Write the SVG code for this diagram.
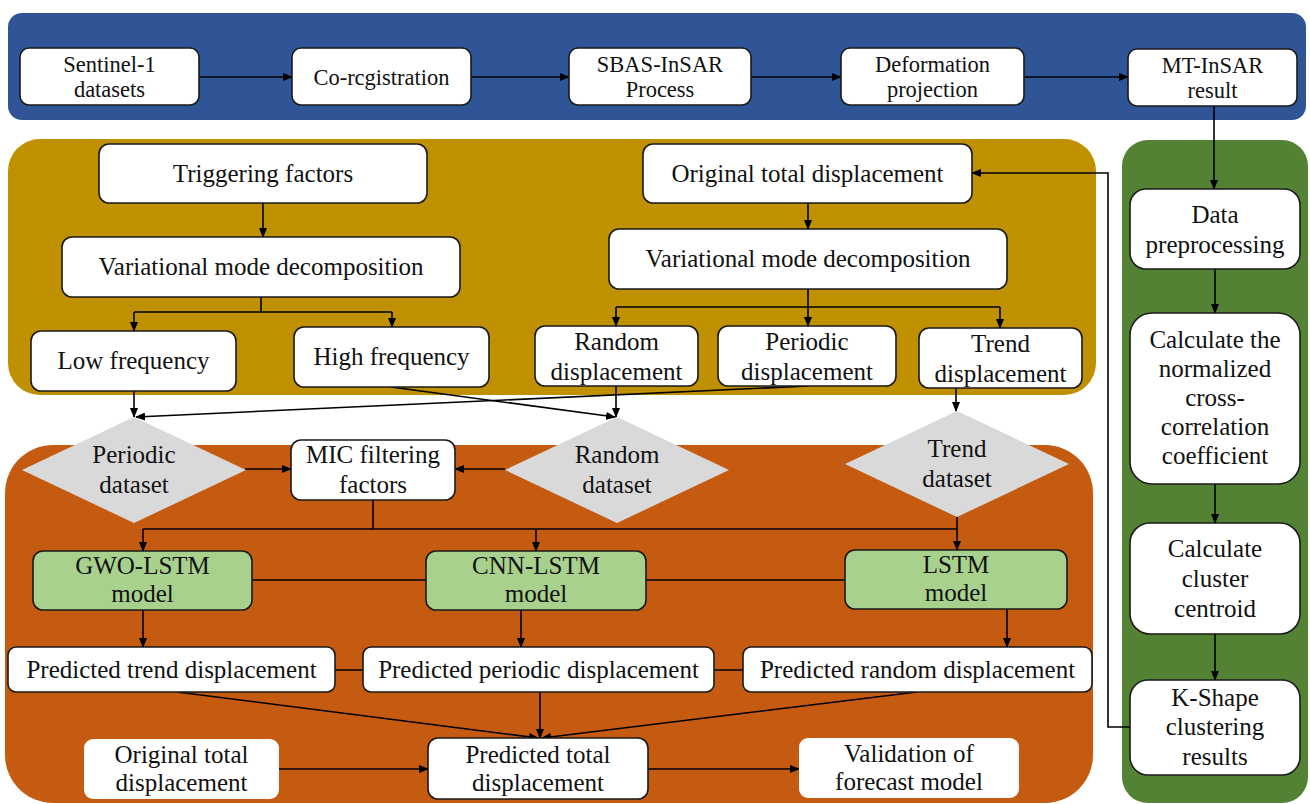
<svg xmlns="http://www.w3.org/2000/svg" width="1310" height="804" viewBox="0 0 1310 804">
<defs>
<marker id="ah" markerWidth="10" markerHeight="8" refX="9" refY="4" orient="auto" markerUnits="userSpaceOnUse">
<path d="M0,0 L10,4 L0,8 Z" fill="#000"/>
</marker>
<style>
text{font-family:'Liberation Serif','DejaVu Serif',serif;fill:#111;text-anchor:middle}
.t{font-size:25px}
.ts{font-size:22.5px}
.b{fill:#fff;stroke:#1a1a1a;stroke-width:1.6}
.g{fill:#A9D18E;stroke:#1a1a1a;stroke-width:1.6}
.n{fill:#fff;stroke:none}
.d{fill:#D9D9D9;stroke:none}
.c{fill:none;stroke:#000;stroke-width:1.6}
.a{fill:none;stroke:#000;stroke-width:1.6;marker-end:url(#ah)}
</style>
</defs>
<rect width="1310" height="804" fill="#fff"/>
<g id="panels">
<rect x="8" y="13" width="1298" height="107" rx="14" fill="#2F5597"/>
<rect x="8" y="139" width="1088" height="256" rx="32" fill="#BF9000"/>
<rect x="5" y="445" width="1088" height="358" rx="48" fill="#C55A11"/>
<rect x="1122" y="140" width="186" height="663" rx="26" fill="#548235"/>
</g>
<g id="connectors">
<path class="a" d="M199,77 H292"/>
<path class="a" d="M471,77 H569"/>
<path class="a" d="M751,77 H841"/>
<path class="a" d="M1024,77 H1128"/>
<path class="a" d="M1214,106 V189"/>
<path class="a" d="M263,203 V237"/>
<path class="c" d="M261,297 V312 M134,312 H392"/>
<path class="a" d="M134,312 V331"/>
<path class="a" d="M392,312 V327"/>
<path class="a" d="M808,203 V229"/>
<path class="c" d="M808,289 V307 M616,307 H1000"/>
<path class="a" d="M616,307 V326"/>
<path class="a" d="M808,307 V326"/>
<path class="a" d="M1000,307 V328"/>
<path class="a" d="M134,391 V417"/>
<path class="a" d="M808,386 L136,417"/>
<path class="a" d="M391,387 L615,417"/>
<path class="a" d="M616,386 V417"/>
<path class="a" d="M956,388 V411"/>
<path class="a" d="M245,469 H291"/>
<path class="a" d="M505,469 H455"/>
<path class="c" d="M373,500 V529 M143,529 H957 M957,517 V529"/>
<path class="a" d="M143,529 V551"/>
<path class="a" d="M536,529 V551"/>
<path class="a" d="M957,529 V550"/>
<path class="c" d="M252,580 H426 M646,580 H845"/>
<path class="a" d="M143,610 V647"/>
<path class="a" d="M521,610 V647"/>
<path class="a" d="M1007,609 V647"/>
<path class="c" d="M335,670 H363 M714,670 H743"/>
<path class="a" d="M177,692 L538,738"/>
<path class="a" d="M540,692 V738"/>
<path class="a" d="M917,692 L542,738"/>
<path class="a" d="M279,769 H428"/>
<path class="a" d="M648,769 H799"/>
<path class="a" d="M1215,269 V313"/>
<path class="a" d="M1215,484 V523"/>
<path class="a" d="M1215,634 V680"/>
<path class="a" d="M1130,727 H1108 V173 H972"/>
</g>
<g id="n-sentinel"><rect class="b" x="20" y="48" width="179" height="57" rx="9"/><text class="ts" x="109.5" y="72">Sentinel-1</text><text class="ts" x="109.5" y="97">datasets</text></g>
<g id="n-coreg"><rect class="b" x="292" y="48" width="179" height="57" rx="9"/><text class="ts" x="381.5" y="85">Co-rcgistration</text></g>
<g id="n-sbas"><rect class="b" x="569" y="48" width="182" height="57" rx="9"/><text class="ts" x="660" y="72">SBAS-InSAR</text><text class="ts" x="660" y="97">Process</text></g>
<g id="n-deform"><rect class="b" x="841" y="48" width="183" height="57" rx="9"/><text class="ts" x="932.5" y="72">Deformation</text><text class="ts" x="932.5" y="97">projection</text></g>
<g id="n-mtinsar"><rect class="b" x="1128" y="49" width="169" height="57" rx="9"/><text class="ts" x="1212.5" y="73">MT-InSAR</text><text class="ts" x="1212.5" y="98">result</text></g>
<g id="n-trigger"><rect class="b" x="99" y="144" width="328" height="59" rx="10"/><text class="t" x="263" y="182">Triggering factors</text></g>
<g id="n-vmd1"><rect class="b" x="62" y="237" width="398" height="60" rx="10"/><text class="t" x="261" y="275">Variational mode decomposition</text></g>
<g id="n-low"><rect class="b" x="31" y="331" width="205" height="60" rx="10"/><text class="t" x="133.5" y="369">Low frequency</text></g>
<g id="n-high"><rect class="b" x="294" y="327" width="195" height="60" rx="10"/><text class="t" x="391.5" y="365">High frequency</text></g>
<g id="n-orig1"><rect class="b" x="643" y="144" width="329" height="59" rx="10"/><text class="t" x="807.5" y="182">Original total displacement</text></g>
<g id="n-vmd2"><rect class="b" x="609" y="229" width="398" height="60" rx="10"/><text class="t" x="808" y="267">Variational mode decomposition</text></g>
<g id="n-randdisp"><rect class="b" x="535" y="326" width="163" height="60" rx="10"/><text class="t" x="616.5" y="350">Random</text><text class="t" x="616.5" y="380">displacement</text></g>
<g id="n-perdisp"><rect class="b" x="718" y="326" width="178" height="60" rx="10"/><text class="t" x="807" y="350">Periodic</text><text class="t" x="807" y="380">displacement</text></g>
<g id="n-trenddisp"><rect class="b" x="919" y="328" width="163" height="60" rx="10"/><text class="t" x="1000.5" y="352">Trend</text><text class="t" x="1000.5" y="382">displacement</text></g>
<g id="n-perset"><polygon class="d" points="134,417 246,470 134,523 22,470"/><text class="t" x="134" y="463">Periodic</text><text class="t" x="134" y="493">dataset</text></g>
<g id="n-mic"><rect class="b" x="291" y="440" width="164" height="60" rx="10"/><text class="t" x="373" y="463">MIC filtering</text><text class="t" x="373" y="493">factors</text></g>
<g id="n-randset"><polygon class="d" points="617,417 729,470 617,523 505,470"/><text class="t" x="617" y="463">Random</text><text class="t" x="617" y="493">dataset</text></g>
<g id="n-trendset"><polygon class="d" points="957,411 1069,464 957,517 845,464"/><text class="t" x="957" y="457">Trend</text><text class="t" x="957" y="487">dataset</text></g>
<g id="n-gwo"><rect class="g" x="33" y="551" width="219" height="59" rx="10"/><text class="t" x="142.5" y="574">GWO-LSTM</text><text class="t" x="142.5" y="602">model</text></g>
<g id="n-cnn"><rect class="g" x="426" y="551" width="220" height="59" rx="10"/><text class="t" x="536" y="574">CNN-LSTM</text><text class="t" x="536" y="602">model</text></g>
<g id="n-lstm"><rect class="g" x="845" y="550" width="222" height="59" rx="10"/><text class="t" x="956" y="573">LSTM</text><text class="t" x="956" y="601">model</text></g>
<g id="n-ptrend"><rect class="b" x="8" y="647" width="327" height="45" rx="8"/><text class="t" x="171.5" y="678">Predicted trend displacement</text></g>
<g id="n-pper"><rect class="b" x="363" y="647" width="351" height="45" rx="8"/><text class="t" x="538.5" y="678">Predicted periodic displacement</text></g>
<g id="n-prand"><rect class="b" x="743" y="647" width="349" height="45" rx="8"/><text class="t" x="917.5" y="678">Predicted random displacement</text></g>
<g id="n-orig2"><rect class="n" x="84" y="739" width="195" height="60" rx="9"/><text class="t" x="181.5" y="763">Original total</text><text class="t" x="181.5" y="791">displacement</text></g>
<g id="n-ptotal"><rect class="b" x="428" y="738" width="220" height="61" rx="10"/><text class="t" x="538" y="763">Predicted total</text><text class="t" x="538" y="791">displacement</text></g>
<g id="n-valid"><rect class="n" x="799" y="738" width="220" height="60" rx="9"/><text class="t" x="909" y="762">Validation of</text><text class="t" x="909" y="790">forecast model</text></g>
<g id="n-prep"><rect class="b" x="1130" y="189" width="170" height="80" rx="16"/><text class="t" x="1215" y="223">Data</text><text class="t" x="1215" y="253">preprocessing</text></g>
<g id="n-ncc"><rect class="b" x="1130" y="313" width="170" height="171" rx="22"/><text class="t" x="1215" y="348">Calculate the</text><text class="t" x="1215" y="377">normalized</text><text class="t" x="1215" y="406">cross-</text><text class="t" x="1215" y="435">correlation</text><text class="t" x="1215" y="464">coefficient</text></g>
<g id="n-centroid"><rect class="b" x="1130" y="523" width="170" height="111" rx="20"/><text class="t" x="1215" y="557">Calculate</text><text class="t" x="1215" y="587">cluster</text><text class="t" x="1215" y="617">centroid</text></g>
<g id="n-kshape"><rect class="b" x="1130" y="680" width="170" height="95" rx="18"/><text class="t" x="1215" y="706">K-Shape</text><text class="t" x="1215" y="735">clustering</text><text class="t" x="1215" y="765">results</text></g>
</svg>
